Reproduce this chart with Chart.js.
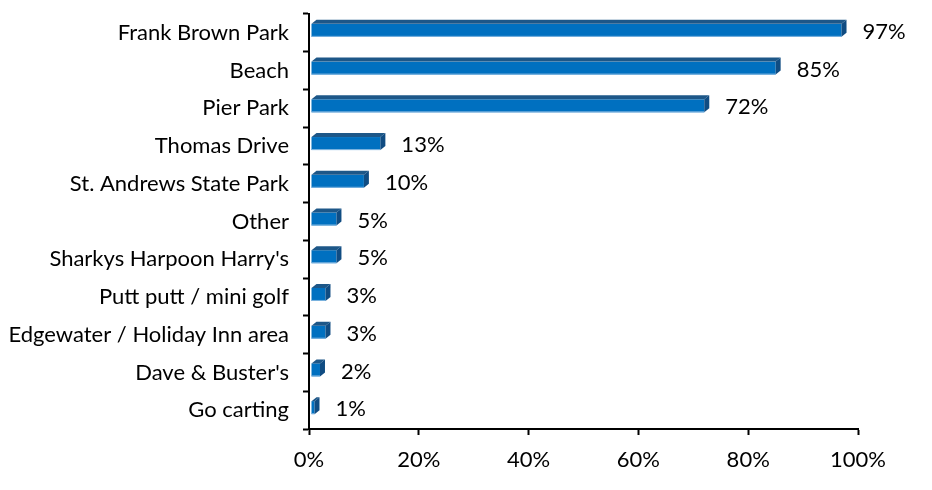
<!DOCTYPE html>
<html>
<head>
<meta charset="utf-8">
<script src="https://cdn.jsdelivr.net/npm/chart.js@4/dist/chart.umd.min.js"></script>
<style>
  html, body { margin: 0; padding: 0; background: #fff; }
  #wrap { width: 932px; height: 490px; }
</style>
</head>
<body>
<div id="wrap"><canvas id="places" width="932" height="490"></canvas></div>
<script>
const categories = [
  'Frank Brown Park', 'Beach', 'Pier Park', 'Thomas Drive', 'St. Andrews State Park',
  'Other', "Sharkys Harpoon Harry's", 'Putt putt / mini golf',
  'Edgewater / Holiday Inn area', "Dave & Buster's", 'Go carting'
];
const percents = [97, 85, 72, 13, 10, 5, 5, 3, 3, 2, 1];
const xTicks = [0, 20, 40, 60, 80, 100];

const FONT = 'Lato, "Open Sans", sans-serif';

// draws the 3d faces + value labels on top of the (hidden) bars
const bars3d = {
  id: 'bars3d',
  afterDatasetsDraw(chart) {
    const ctx = chart.ctx;
    const meta = chart.getDatasetMeta(0);
    const dx = 5, dy = 4;
    ctx.save();
    meta.data.forEach((bar, i) => {
      const x0 = bar.base + 2, x1 = bar.x;
      const top = bar.y - 9, bot = bar.y + 4;
      // front
      ctx.fillStyle = '#0070C0';
      ctx.fillRect(x0, top, x1 - x0, bot - top);
      // top face
      ctx.fillStyle = '#1D5788';
      ctx.beginPath();
      ctx.moveTo(x0, top);
      ctx.lineTo(x0 + dx, top - dy);
      ctx.lineTo(x1 + dx, top - dy);
      ctx.lineTo(x1, top);
      ctx.closePath();
      ctx.fill();
      // right face
      ctx.fillStyle = '#104C82';
      ctx.beginPath();
      ctx.moveTo(x1, top);
      ctx.lineTo(x1 + dx, top - dy);
      ctx.lineTo(x1 + dx, bot - dy);
      ctx.lineTo(x1, bot);
      ctx.closePath();
      ctx.fill();
      // light bottom edge
      ctx.fillStyle = '#7FB5E0';
      ctx.fillRect(x0, bot - 1, x1 - x0, 1);

      ctx.fillStyle = '#000';
      ctx.font = '22px ' + FONT;
      ctx.textBaseline = 'middle';
      ctx.textAlign = 'left';
      ctx.fillText(percents[i] + '%', x1 + dx + 16, bar.y - 1);
    });
    ctx.restore();
  }
};

new Chart(document.getElementById('places'), {
  type: 'bar',
  data: {
    labels: categories,
    datasets: [{
      data: percents,
      backgroundColor: 'rgba(0,0,0,0)',
      borderWidth: 0,
      barThickness: 17
    }]
  },
  options: {
    indexAxis: 'y',
    responsive: false,
    animation: false,
    events: [],
    layout: { padding: { top: 14, right: 74, bottom: 0, left: 0 } },
    plugins: { legend: { display: false }, tooltip: { enabled: false } },
    scales: {
      x: {
        min: 0, max: 100,
        afterBuildTicks: (ax) => { ax.ticks = xTicks.map(v => ({ value: v })); },
        afterFit: (ax) => { ax.height = 61; },
        grid: { drawOnChartArea: false, color: '#000', tickLength: 6, tickWidth: 2 },
        border: { color: '#000', width: 2 },
        ticks: {
          color: '#000', padding: 12,
          font: { family: FONT, size: 22 },
          callback: (v) => v + '%'
        }
      },
      y: {
        afterFit: (ax) => { ax.width = 309; ax.paddingTop = 0; ax.paddingBottom = 0; },
        grid: { drawOnChartArea: false, color: '#000', tickLength: 6, tickWidth: 2, offset: true },
        border: { color: '#000', width: 2 },
        ticks: {
          color: '#000', padding: 14,
          font: { family: FONT, size: 22 }
        }
      }
    }
  },
  plugins: [bars3d]
});
</script>
</body>
</html>
